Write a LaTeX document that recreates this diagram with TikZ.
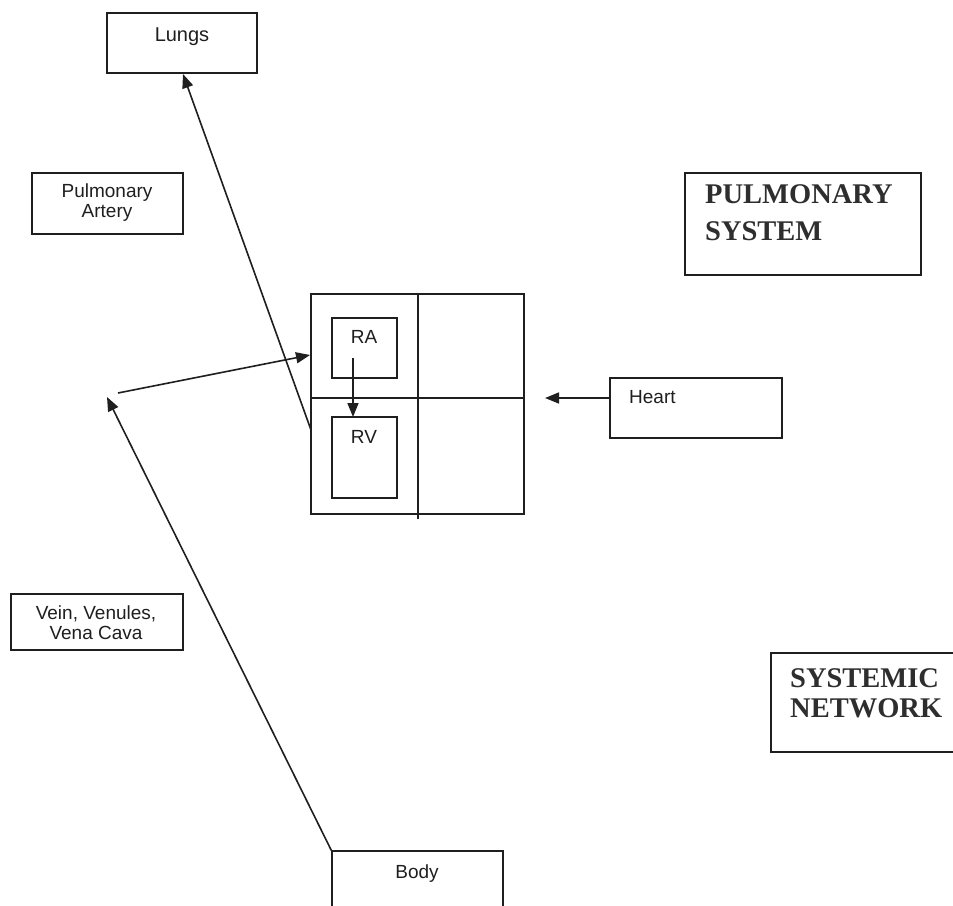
\documentclass[tikz,border=0pt]{standalone}
\usepackage{fontspec}
\setmainfont{Liberation Sans}
\newfontfamily\tnr{Liberation Serif}
\usetikzlibrary{arrows.meta}
\tikzset{
 box/.style={draw=black!88, line width=1.5pt, inner sep=0pt, fill=none},
 lbl/.style={font=\fontsize{19}{21}\selectfont, inner sep=0pt, anchor=base, text=black!88},
 lblw/.style={lbl, anchor=base west},
 big/.style={font=\tnr\bfseries\fontsize{28.5}{33}\selectfont, inner sep=0pt, anchor=base west, text=black!82},
 conn/.style={line width=1.6pt, draw=black!88, -{Triangle[length=14pt,width=11pt]}},
 plain/.style={line width=1.5pt, draw=black!88},
}
\begin{document}
\begin{tikzpicture}[x=1pt,y=-1pt]
\clip (0,0) rectangle (953,905);
\fill[white] (0,0) rectangle (953,905);
% boxes
\node[box, minimum width=150pt, minimum height=60pt] (lungs) at (182,43) {};
\node[box, minimum width=151pt, minimum height=61pt] (pa) at (107.5,203.5) {};
\node[box, minimum width=236pt, minimum height=102pt] (pulsys) at (803,224) {};
\node[box, minimum width=213pt, minimum height=220pt] (grid) at (417.5,404) {};
\node[box, minimum width=65pt, minimum height=60pt] (ra) at (364.5,348) {};
\node[box, minimum width=65pt, minimum height=81pt] (rv) at (364.5,457.5) {};
\node[box, minimum width=172pt, minimum height=60pt] (heart) at (696,408) {};
\node[box, minimum width=172pt, minimum height=56pt] (vein) at (97,622) {};
\node[box, minimum width=189pt, minimum height=99pt] (sysnet) at (865.5,702.5) {};
\node[box, minimum width=171pt, minimum height=69pt] (body) at (417.5,885.5) {};
% grid dividers
\coordinate (gvt) at (418,294);
\coordinate (gvb) at (418,519);
\coordinate (ghl) at (311,398);
\coordinate (ghr) at (524,398);
\draw[plain] (gvt) -- (gvb);
\draw[plain] (ghl) -- (ghr);
% texts
\node[lbl, font=\fontsize{20}{22}\selectfont] (tlungs) at (182,41) {Lungs};
\node[lbl] (tpa1) at (107,197) {Pulmonary};
\node[lbl] (tpa2) at (107,217) {Artery};
\node[lbl] (tra) at (364,343) {RA};
\node[lbl] (trv) at (364,443) {RV};
\node[lblw] (theart) at (629,403) {Heart};
\node[lbl] (tv1) at (96,619) {Vein, Venules,};
\node[lbl] (tv2) at (96,639) {Vena Cava};
\node[lbl] (tbody) at (417,878) {Body};
\node[big] (tps1) at (705,203) {PULMONARY};
\node[big] (tps2) at (705,240) {SYSTEM};
\node[big] (tsn1) at (790,687) {SYSTEMIC};
\node[big] (tsn2) at (790,717) {NETWORK};
% connector endpoints
\coordinate (lungsIn) at (183,74);
\coordinate (gridLow) at (311,430);
\coordinate (junction) at (118,393);
\coordinate (gridIn) at (310,355);
\coordinate (bodyTip) at (107,397);
\coordinate (heartOut) at (610,398);
\coordinate (gridRight) at (545,398);
\coordinate (raOut) at (353,358);
\coordinate (rvIn) at (353,417);
% connectors
\draw[conn] (gridLow) -- (lungsIn);
\draw[conn] (junction) -- (gridIn);
\draw[conn] (body.north west) -- (bodyTip);
\draw[conn] (heartOut) -- (gridRight);
\draw[conn] (raOut) -- (rvIn);
\end{tikzpicture}
\end{document}
